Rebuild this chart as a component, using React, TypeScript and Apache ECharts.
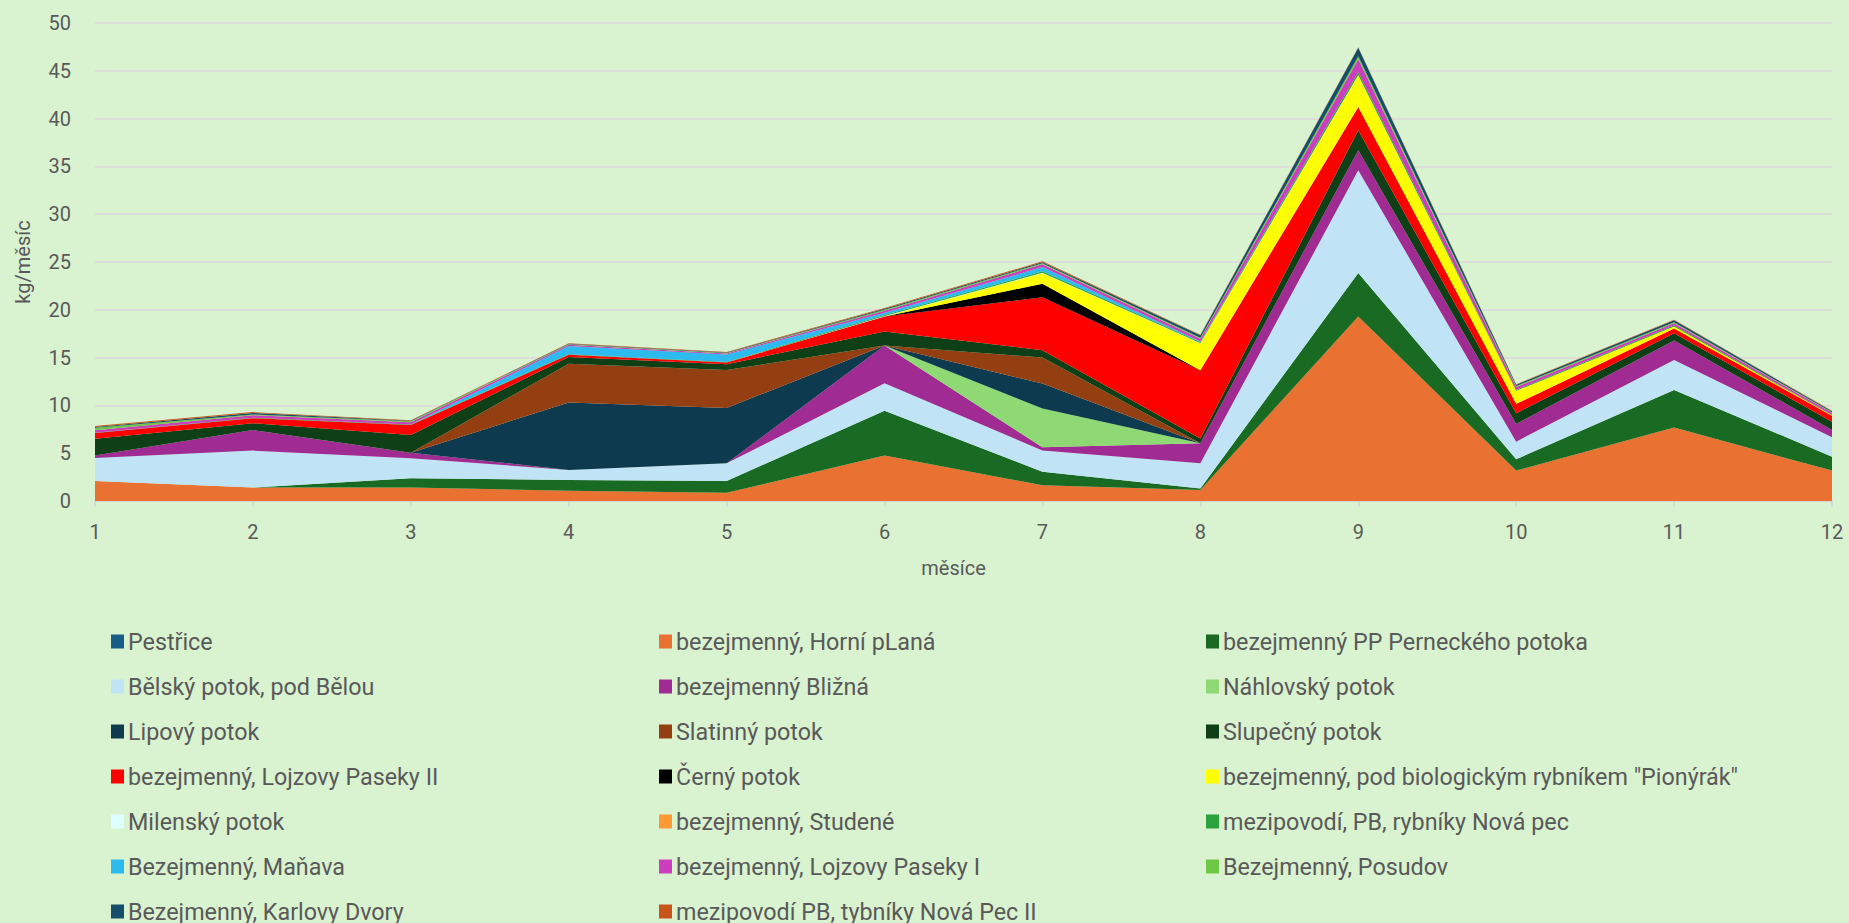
import React, { useEffect, useRef } from "react";
import * as echarts from "echarts";

const months = ["1", "2", "3", "4", "5", "6", "7", "8", "9", "10", "11", "12"];
const yTicks = { min: 0, max: 50, interval: 5 };

const seriesNames = [
  "Pestřice",
  "bezejmenný, Horní pLaná",
  "bezejmenný PP Perneckého potoka",
  "Bělský potok, pod Bělou",
  "bezejmenný Bližná",
  "Náhlovský potok",
  "Lipový potok",
  "Slatinný potok",
  "Slupečný potok",
  "bezejmenný, Lojzovy Paseky II",
  "Černý potok",
  "bezejmenný, pod biologickým rybníkem \"Pionýrák\"",
  "Milenský potok",
  "bezejmenný, Studené",
  "mezipovodí, PB, rybníky Nová pec",
  "Bezejmenný, Maňava",
  "bezejmenný, Lojzovy Paseky I",
  "Bezejmenný, Posudov",
  "Bezejmenný, Karlovy Dvory",
  "mezipovodí PB, tybníky Nová Pec II",
];

const seriesColors = [
  "#175E86", "#E97132", "#196B24", "#C0E4F5", "#A02B93", "#8ED973", "#0E3A4F",
  "#943F12", "#0F3F16", "#FF0000", "#000000", "#FFFF00", "#DDFFFF", "#FF9933",
  "#2AA33B", "#2DBBEF", "#CC3EBE", "#6CC845", "#154E6B", "#C9541A",
];

const pestrice = [0, 0, 0, 0, 0, 0, 0, 0, 0, 0, 0, 0];
const horniPlana = [2.1, 1.4, 1.4, 1.08, 0.87, 4.75, 1.65, 1.15, 19.3, 3.18, 7.68, 3.18];
const perneckeho = [0, 0, 0.97, 1.12, 1.22, 4.7, 1.4, 0.15, 4.54, 1.19, 3.94, 1.46];
const belsky = [2.4, 3.87, 2.1, 1.05, 1.85, 2.87, 2.24, 2.64, 10.75, 1.84, 3.14, 2.03];
const blizna = [0.25, 2.16, 0.59, 0, 0, 3.95, 0.34, 2.1, 2.1, 1.85, 2.03, 0.76];
const nahlovsky = [0, 0, 0, 0, 0, 0, 4.05, 0, 0, 0, 0, 0];
const lipovy = [0, 0, 0, 7.05, 5.8, 0, 2.6, 0, 0, 0, 0, 0];
const slatinny = [0, 0, 0, 4.05, 3.97, 0, 2.72, 0, 0, 0, 0, 0];
const slupecny = [1.75, 0.7, 1.84, 0.7, 0.6, 1.46, 0.77, 0.5, 2.08, 1.12, 0.77, 0.87];
const lojzovyII = [0.6, 0.53, 1.05, 0.24, 0.17, 1.57, 5.55, 7.14, 2.44, 0.98, 0.48, 0.63];
const cerny = [0, 0, 0, 0, 0, 0, 1.4, 0, 0, 0, 0, 0];
const pionyrak = [0, 0, 0, 0, 0, 0, 1.1, 2.8, 3.3, 1.36, 0.21, 0.05];
const milensky = [0, 0, 0, 0, 0, 0.05, 0.05, 0.05, 0.05, 0, 0, 0];
const studene = [0, 0, 0, 0, 0, 0, 0, 0, 0, 0, 0, 0];
const novaPec = [0.05, 0.05, 0.05, 0.05, 0.05, 0.1, 0.15, 0.1, 0.3, 0.1, 0.1, 0.05];
const manava = [0, 0, 0, 0.87, 0.8, 0.25, 0.45, 0.05, 0, 0, 0, 0];
const lojzovyI = [0.25, 0.27, 0.24, 0.14, 0.11, 0.2, 0.3, 0.3, 1.35, 0.3, 0.25, 0.2];
const posudov = [0.25, 0.07, 0.1, 0.05, 0.05, 0.1, 0.1, 0.1, 0.3, 0.1, 0.1, 0.05];
const karlovy = [0.1, 0.15, 0.05, 0.05, 0.05, 0.1, 0.1, 0.25, 0.9, 0.15, 0.2, 0.1];
const novaPecII = [0.1, 0.1, 0.05, 0.05, 0.05, 0.1, 0.1, 0.05, 0.05, 0.05, 0.05, 0.05];

const seriesValues = [
  pestrice, horniPlana, perneckeho, belsky, blizna, nahlovsky, lipovy, slatinny,
  slupecny, lojzovyII, cerny, pionyrak, milensky, studene, novaPec, manava,
  lojzovyI, posudov, karlovy, novaPecII,
];

const FONT = "Roboto, 'Open Sans', sans-serif";
const TEXT = "#595959";

export default function App() {
  const ref = useRef<HTMLDivElement>(null);
  useEffect(() => {
    if (!ref.current) return;
    const chart = echarts.init(ref.current, null, { renderer: "svg" });
    const cols = [0, 1, 2].map((c) => seriesNames.filter((_, i) => i % 3 === c));
    const colLeft = [111, 659, 1206];
    const legendBase = {
      orient: "vertical" as const,
      top: 630,
      height: 400,
      itemWidth: 13,
      itemHeight: 14,
      itemGap: 22,
      icon: "rect",
      textStyle: { color: TEXT, fontSize: 23.3, fontFamily: FONT, lineHeight: 22, padding: [0, 0, 0, -1] },
      padding: 0,
      selectedMode: false,
    };
    chart.setOption({
      animation: false,
      backgroundColor: "#D9F2D0",
      textStyle: { fontFamily: FONT },
      grid: { left: 95, right: 17, top: 23, bottom: 422, containLabel: false },
      legend: cols.map((data, c) => ({ ...legendBase, left: colLeft[c], data })),
      xAxis: {
        type: "category",
        data: months,
        boundaryGap: false,
        name: "měsíce",
        nameLocation: "middle",
        nameGap: 57,
        nameTextStyle: { color: TEXT, fontSize: 20, fontFamily: FONT, padding: [0, 20, 0, 0] },
        axisLine: { lineStyle: { color: "#D5D5D5", width: 1.5 } },
        axisTick: { show: true, length: 6, lineStyle: { color: "#D5D5D5", width: 1.5 } },
        axisLabel: { color: TEXT, fontSize: 20, fontFamily: FONT, margin: 21 },
        splitLine: { show: false },
      },
      yAxis: {
        type: "value",
        min: yTicks.min,
        max: yTicks.max,
        interval: yTicks.interval,
        name: "kg/měsíc",
        nameLocation: "middle",
        nameGap: 62,
        nameRotate: 90,
        nameTextStyle: { color: TEXT, fontSize: 20, fontFamily: FONT },
        axisLine: { show: false },
        axisTick: { show: false },
        axisLabel: { color: TEXT, fontSize: 20, fontFamily: FONT, margin: 24 },
        splitLine: { lineStyle: { color: "#DCD8DC", width: 1.5 } },
      },
      series: seriesNames.map((name, i) => ({
        name,
        type: "line",
        stack: "total",
        data: seriesValues[i],
        symbol: "none",
        showSymbol: false,
        lineStyle: { width: 0 },
        itemStyle: { color: seriesColors[i] },
        areaStyle: { color: seriesColors[i], opacity: 1 },
        emphasis: { disabled: true },
      })),
    });
    return () => chart.dispose();
  }, []);
  return (
    <div
      ref={ref}
      style={{ position: "fixed", left: 0, top: 0, width: "100vw", height: "100vh" }}
    />
  );
}
